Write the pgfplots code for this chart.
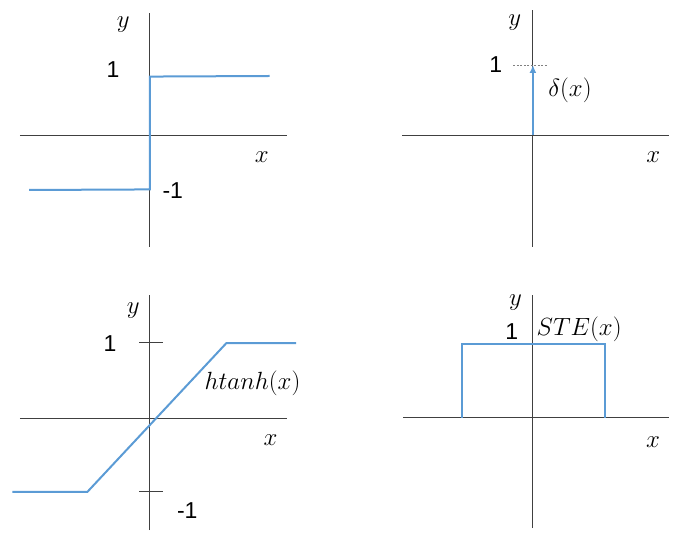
\documentclass[border=0pt]{standalone}
\usepackage{fontspec}
\setmainfont{Liberation Sans}
\usepackage{pgfplots}
\pgfplotsset{compat=1.18}
\usetikzlibrary{arrows.meta}
\definecolor{lineblue}{HTML}{5B9BD5}
\definecolor{axgray}{HTML}{404040}
\newcommand{\numl}[1]{{\fontsize{23}{26}\selectfont #1}}
\newcommand{\mlab}[1]{{\fontsize{25}{28}\selectfont$#1$}}
\pgfplotsset{panel/.style={axis lines*=middle, ticks=none, scale only axis, clip=false,
  axis line style={axgray, line width=0.9pt}, anchor=south west}}
\begin{document}
\begin{tikzpicture}
\useasboundingbox (0,0) rectangle (685pt,541pt);
% panel 1: sign
\begin{axis}[panel, x=57pt, y=57pt, xmin=-2.27, xmax=2.41, ymin=-1.96, ymax=2.15, at={(20pt,294pt)}]
\addplot[lineblue, line width=2pt] coordinates {(-2.11,-0.96) (0.01,-0.95) (0.01,1.03) (2.11,1.04)};
\node at (axis cs:-0.46,1.94) {\mlab{y}};
\node at (axis cs:-0.64,1.15) {\numl{1}};
\node at (axis cs:1.97,-0.39) {\mlab{x}};
\node at (axis cs:0.41,-0.97) {\numl{-1}};
\end{axis}
% panel 2: delta
\begin{axis}[panel, x=70pt, y=70pt, xmin=-1.86, xmax=1.95, ymin=-1.6, ymax=1.79, at={(402pt,294pt)}]
\addplot[gray, line width=0.5pt, dash pattern=on 2pt off 1.5pt] coordinates {(-0.27,1) (0.23,1)};
\addplot[lineblue, line width=2pt, -{Latex[length=8pt,width=7pt]}] coordinates {(0.01,0) (0.01,1)};
\node at (axis cs:-0.25,1.6) {\mlab{y}};
\node at (axis cs:-0.52,1.0) {\numl{1}};
\node at (axis cs:0.54,0.64) {\mlab{\delta(x)}};
\node at (axis cs:1.73,-0.31) {\mlab{x}};
\end{axis}
% panel 3: htanh
\begin{axis}[panel, x=75pt, y=75pt, xmin=-1.73, xmax=1.83, ymin=-1.49, ymax=1.64, at={(20pt,11pt)}]
\addplot[axgray, line width=0.9pt] coordinates {(-0.14,1.01) (0.18,1.01)};
\addplot[axgray, line width=0.9pt] coordinates {(-0.14,-0.97) (0.18,-0.97)};
\addplot[lineblue, line width=2pt] coordinates {(-1.83,-0.98) (-0.83,-0.98) (1.02,1.0) (1.95,1.0)};
\node at (axis cs:-0.22,1.44) {\mlab{y}};
\node at (axis cs:-0.53,1.0) {\numl{1}};
\node at (axis cs:1.37,0.47) {\mlab{htanh(x)}};
\node at (axis cs:1.61,-0.29) {\mlab{x}};
\node at (axis cs:0.5,-1.23) {\numl{-1}};
\end{axis}
% panel 4: STE
\begin{axis}[panel, x=74pt, y=74pt, xmin=-1.75, xmax=1.85, ymin=-1.49, ymax=1.66, at={(403pt,13pt)}]
\addplot[lineblue, line width=2pt] coordinates {(-0.95,0) (-0.95,1) (0.98,1) (0.98,0)};
\node at (axis cs:-0.23,1.56) {\mlab{y}};
\node at (axis cs:-0.28,1.16) {\numl{1}};
\node at (axis cs:0.63,1.19) {\mlab{STE(x)}};
\node at (axis cs:1.63,-0.33) {\mlab{x}};
\end{axis}
\end{tikzpicture}
\end{document}
